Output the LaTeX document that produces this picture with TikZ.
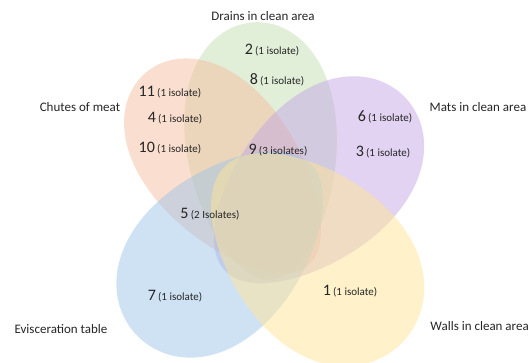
\documentclass[tikz,border=0pt]{standalone}
\usepackage{fontspec}
\setmainfont{Carlito}
\usepackage{tikz}
\usetikzlibrary{positioning}

\definecolor{drainsgreen}{RGB}{196,222,178}
\definecolor{chutesorange}{RGB}{246,190,160}
\definecolor{matspurple}{RGB}{196,168,228}
\definecolor{eviscblue}{RGB}{160,198,232}
\definecolor{wallsyellow}{RGB}{255,228,150}

\tikzset{
  setfill/.style={fill=#1, fill opacity=0.5, draw=none},
  catlabel/.style={font=\fontsize{13}{15}\selectfont, text=black!85, inner sep=0pt},
  cnt/.style={inner sep=0pt, text=black!85}
}
% egg: colour, centre x, centre y, rotation, half length, half width
\newcommand{\eggset}[6]{%
  \fill[setfill=#1, shift={(#2,#3)}, rotate=#4]
    plot[domain=0:360, samples=120, variable=\t]
      ({#5*cos(\t)}, {#6*sin(\t)*(1+0.17*cos(\t))}) -- cycle;}
\newcommand{\cntlabel}[2]{{\fontsize{16}{16}\selectfont #1} {\fontsize{11}{12}\selectfont #2}}

\begin{document}
\begin{tikzpicture}[x=1pt,y=1pt]
\clip (0,0) rectangle (530,362);
\fill[white] (0,0) rectangle (530,362);
% the five sets
\eggset{drainsgreen}{262}{211}{94}{129}{75}
\eggset{chutesorange}{227}{193}{130}{126}{73}
\eggset{matspurple}{315}{178}{44}{125}{78}
\eggset{eviscblue}{224}{112}{225}{122}{80}
\eggset{wallsyellow}{313}{107}{-45}{125}{84}
% set names
\node[catlabel] (drains) at (263,346) {Drains in clean area};
\node[catlabel] (chutes) at (80,255) {Chutes of meat};
\node[catlabel] (mats) at (478,255) {Mats in clean area};
\node[catlabel] (evisc) at (61,33) {Evisceration table};
\node[catlabel, anchor=east] (walls) at (529,36) {Walls in clean area};
% counts
\node[cnt] (c2) at (272,312) {\cntlabel{2}{(1 isolate)}};
\node[cnt] (c8) at (277,282) {\cntlabel{8}{(1 isolate)}};
\node[cnt] (c11) at (170,270) {\cntlabel{11}{(1 isolate)}};
\node[cnt] (c4) at (175,244) {\cntlabel{4}{(1 isolate)}};
\node[cnt] (c10) at (170,214) {\cntlabel{10}{(1 isolate)}};
\node[cnt] (c9) at (278,212) {\cntlabel{9}{(3 isolates)}};
\node[cnt] (c6) at (385,245) {\cntlabel{6}{(1 isolate)}};
\node[cnt] (c3) at (383,210) {\cntlabel{3}{(1 isolate)}};
\node[cnt] (c5) at (210,148) {\cntlabel{5}{(2 Isolates)}};
\node[cnt] (c7) at (175,66) {\cntlabel{7}{(1 isolate)}};
\node[cnt] (c1) at (350,71) {\cntlabel{1}{(1 isolate)}};
\end{tikzpicture}
\end{document}
